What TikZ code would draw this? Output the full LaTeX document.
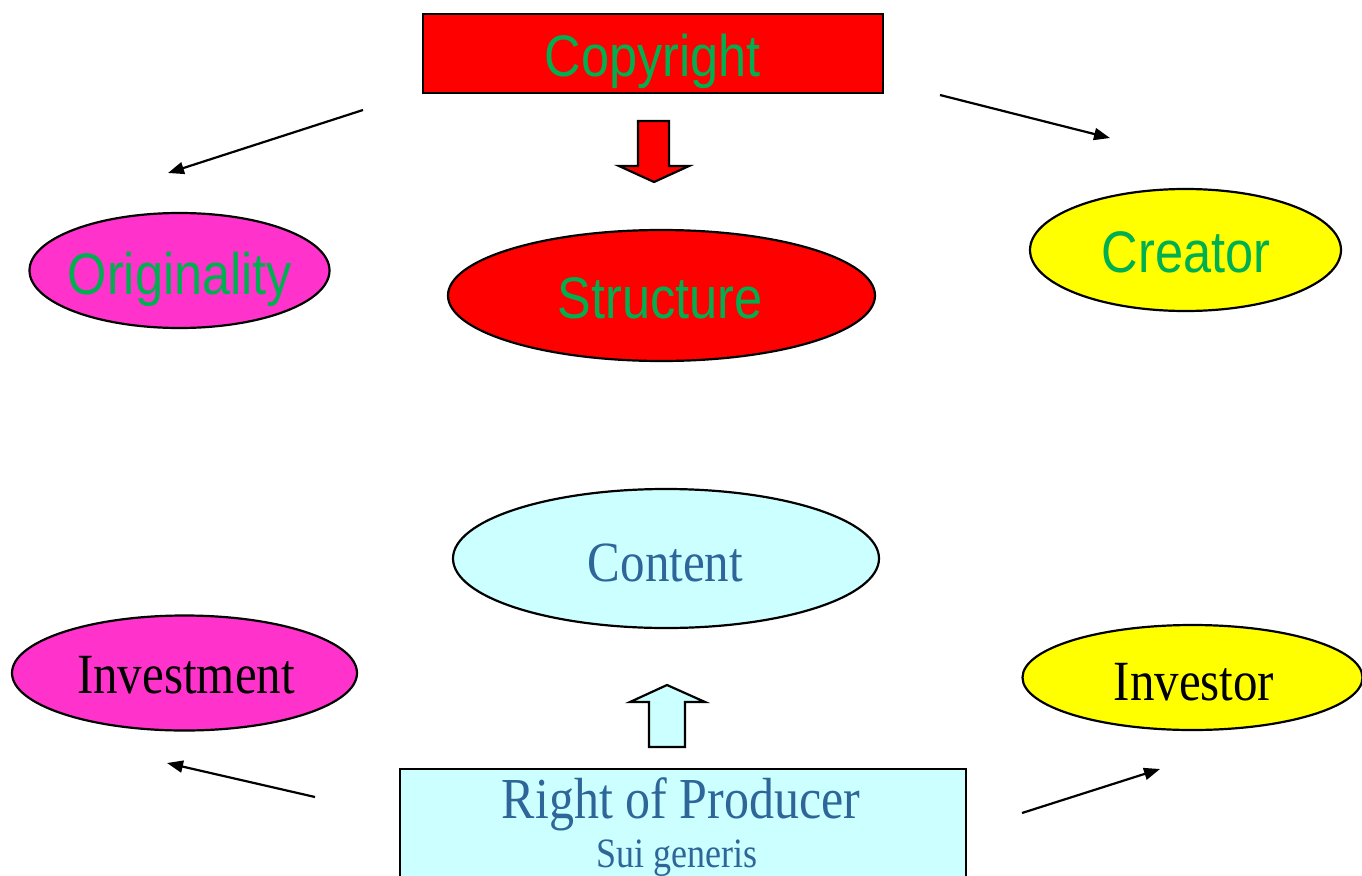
\documentclass[tikz,border=0pt]{standalone}
\usepackage{fontspec}
\usepackage{graphicx}
\setmainfont{Liberation Serif}
\newfontfamily\arialfont{Liberation Sans}
\usetikzlibrary{arrows.meta,shapes.geometric}

\definecolor{txtgreen}{HTML}{00B050}
\definecolor{txtblue}{HTML}{2F6699}
\definecolor{boxred}{HTML}{FF0000}
\definecolor{pinkfill}{HTML}{FF33CC}
\definecolor{yellowfill}{HTML}{FFFF00}
\definecolor{cyanfill}{HTML}{CCFFFF}

% slightly tall lettering
\newcommand{\tallcaps}[1]{\scalebox{1}[1.16]{#1}}

\begin{document}
\begin{tikzpicture}[x=1pt,y=-1pt,
  oval/.style={ellipse, draw=black, line width=2.2pt, inner sep=0pt},
  plainbox/.style={rectangle, draw=black, line width=2.2pt, inner sep=0pt},
  sanslbl/.style={anchor=base, inner sep=0pt, text=txtgreen,
    font=\arialfont\fontsize{50.5}{60}\selectfont},
  seriflbl/.style={anchor=base, inner sep=0pt,
    font=\fontsize{49}{58}\selectfont},
  link/.style={draw=black, line width=2.2pt,
    -{Triangle[length=16pt,width=12pt]}},
  blockarrow/.style={draw=black, line width=2.2pt, line join=miter}]

\useasboundingbox (0,0) rectangle (1362,875);
\clip (0,0) rectangle (1362,875);

% ---- copyright part ----
\node[plainbox, fill=boxred, minimum width=460pt, minimum height=79pt]
  (copy) at (653,53.5) {};
\node[sanslbl] (copyT) at (653,76) {\tallcaps{Copyright}};

\node[oval, fill=pinkfill, minimum width=300pt, minimum height=115pt]
  (orig) at (179.5,270.5) {};
\node[sanslbl] (origT) at (180,294) {\tallcaps{Originality}};

\node[oval, fill=boxred, minimum width=427pt, minimum height=131pt]
  (struct) at (661.5,295.5) {};
\node[sanslbl] (structT) at (660,318) {\tallcaps{Structure}};

\node[oval, fill=yellowfill, minimum width=311pt, minimum height=122pt]
  (creator) at (1185.5,250) {};
\node[sanslbl] (creatorT) at (1186,272) {\tallcaps{Creator}};

% red block arrow from the copyright box to the structure
\draw[blockarrow, fill=boxred]
  (638,121) -- (669,121) -- (669,166) -- (689,166) -- (654,182)
  -- (619,166) -- (638,166) -- cycle;

\coordinate (lA) at (363,110);
\coordinate (lB) at (168,173);
\coordinate (rA) at (940,95);
\coordinate (rB) at (1110,138);
\draw[link] (lA) -- (lB);
\draw[link] (rA) -- (rB);

% ---- producer part ----
\node[oval, fill=cyanfill, minimum width=426pt, minimum height=139pt]
  (content) at (666,558.5) {};
\node[seriflbl, text=txtblue] (contentT) at (665.5,581) {\tallcaps{Content}};

\node[oval, fill=pinkfill, minimum width=345pt, minimum height=115pt]
  (invest) at (184.5,673) {};
\node[seriflbl] (investT) at (186,693) {\tallcaps{Investment}};

\node[oval, fill=yellowfill, minimum width=340pt, minimum height=105pt]
  (investor) at (1192.5,677.5) {};
\node[seriflbl] (investorT) at (1194,700) {\tallcaps{Investor}};

% cyan block arrow from the producer box to the content
\draw[blockarrow, fill=cyanfill]
  (649,747) -- (685,747) -- (685,702) -- (705,702) -- (667,685)
  -- (630,702) -- (649,702) -- cycle;

\node[plainbox, fill=cyanfill, minimum width=566pt, minimum height=140pt]
  (producer) at (683,839) {};
\node[seriflbl, text=txtblue, font=\fontsize{50}{60}\selectfont]
  (producerT) at (681,818) {\tallcaps{Right of Producer}};
\node[anchor=base, inner sep=0pt, text=txtblue,
  font=\fontsize{36}{43}\selectfont] (suiT) at (677,867) {\tallcaps{Sui generis}};

\coordinate (blA) at (315,797);
\coordinate (blB) at (167,763);
\coordinate (brA) at (1022,813);
\coordinate (brB) at (1160,769);
\draw[link] (blA) -- (blB);
\draw[link] (brA) -- (brB);

\end{tikzpicture}
\end{document}
